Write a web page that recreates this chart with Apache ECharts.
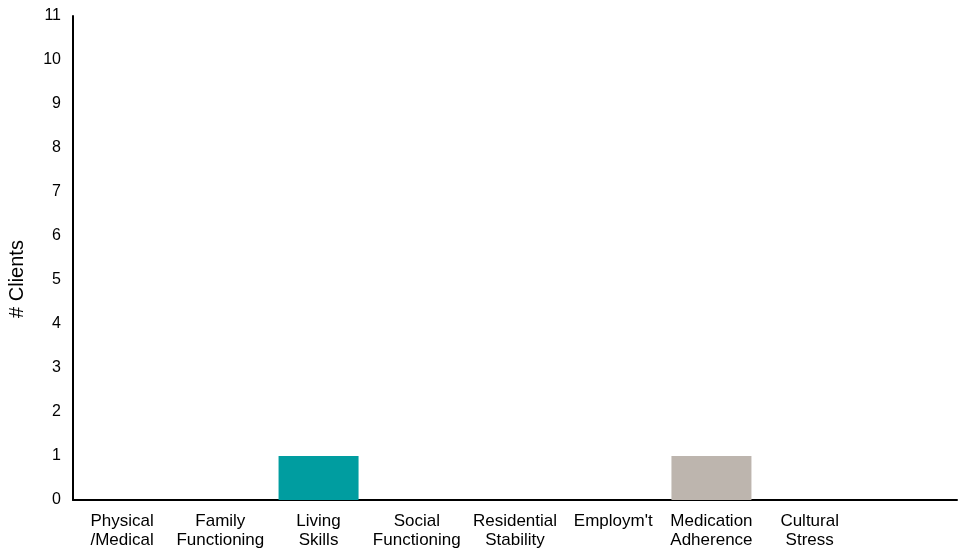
<!DOCTYPE html>
<html>
<head>
<meta charset="utf-8">
<script src="https://cdn.jsdelivr.net/npm/echarts@6/dist/echarts.min.js"></script>
<style>html,body{margin:0;padding:0;background:#fff}#c{width:963px;height:549px}</style>
</head>
<body>
<div id="c"></div>
<script>
const categories = ['Physical\n/Medical','Family\nFunctioning','Living\nSkills','Social\nFunctioning','Residential\nStability',"Employm't",'Medication\nAdherence','Cultural\nStress',''];
const clients = [0,0,1,0,0,0,1,0,null];
const barColors = ['#009DA0','#009DA0','#009DA0','#009DA0','#009DA0','#009DA0','#BDB5AE','#009DA0','#009DA0'];
const yMin = 0, yMax = 11, yInterval = 1;

const chart = echarts.init(document.getElementById('c'), null, {renderer:'canvas'});
chart.setOption({
  animation:false,
  backgroundColor:'#fff',
  grid:{left:73,right:6,top:16,bottom:49,containLabel:false,outerBoundsMode:'none'},
  xAxis:{
    type:'category',
    data:categories,
    axisLine:{lineStyle:{color:'#000',width:2}},
    axisTick:{show:false},
    axisLabel:{color:'#000',fontFamily:'Liberation Sans, Arial',fontSize:17,lineHeight:19,margin:12,interval:0}
  },
  yAxis:{
    type:'value',min:yMin,max:yMax,interval:yInterval,
    name:'# Clients',nameLocation:'middle',nameGap:46,nameRotate:90,
    nameTextStyle:{color:'#000',fontFamily:'Liberation Sans, Arial',fontSize:20,padding:[0,42,0,0]},
    axisLine:{show:true,lineStyle:{color:'#000',width:2}},
    axisTick:{show:false},
    splitLine:{show:false},
    axisLabel:{color:'#000',fontFamily:'Liberation Sans, Arial',fontSize:16,margin:12}
  },
  series:[{
    type:'bar',
    data:clients.map((v,i)=>({value:v,itemStyle:{color:barColors[i]}})),
    barWidth:80
  }]
});
</script>
</body>
</html>
